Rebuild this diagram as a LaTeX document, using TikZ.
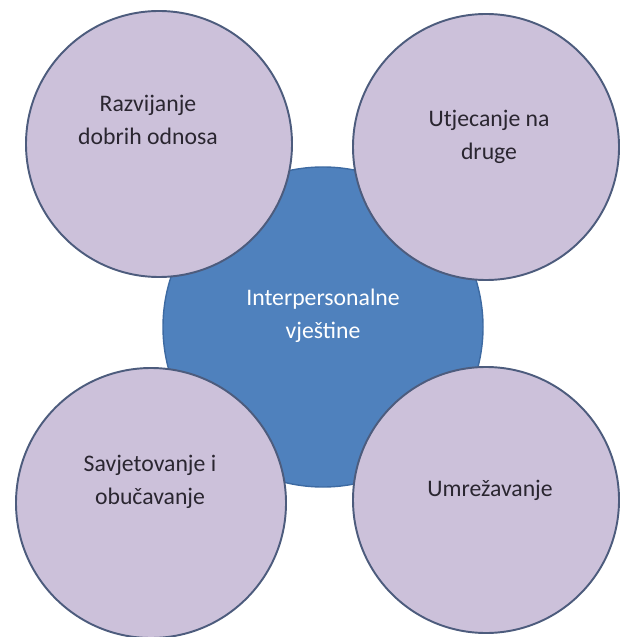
\documentclass[tikz,border=0pt]{standalone}
\usepackage{fontspec}
\setmainfont{Carlito}
\usepackage{xcolor}
\usepackage{tikz}
\usetikzlibrary{positioning}
\definecolor{skillBlue}{HTML}{4F81BD}
\definecolor{skillEdge}{HTML}{3D6AA2}
\definecolor{lavFill}{HTML}{CCC1DA}
\definecolor{lavEdge}{HTML}{4D5C7D}
\definecolor{ink}{HTML}{2A2630}

\begin{document}
\begin{tikzpicture}[font=\fontsize{13.5}{19}\selectfont,
  bubble/.style={circle,draw=lavEdge,line width=1.1pt,fill=lavFill,inner sep=0pt},
  hub/.style={circle,draw=skillEdge,line width=0.8pt,fill=skillBlue,inner sep=0pt},
  txt/.style={align=center,text=ink}]
\useasboundingbox (0,0) rectangle (12.38,-12.74);
% centre
\node[hub,minimum size=6.4cm] (hub) at (6.46,-6.54) {};
\node[txt,text=white] (hubtxt) at (6.46,-6.32) {Interpersonalne\\vještine};
% four skills
\node[bubble,minimum size=5.32cm] (odn) at (3.18,-2.88) {};
\node[txt] (odntxt) at (2.96,-2.40) {Razvijanje\\dobrih odnosa};
\node[bubble,minimum size=5.32cm] (utj) at (9.72,-2.94) {};
\node[txt] (utjtxt) at (9.78,-2.74) {Utjecanje na\\druge};
\node[bubble,minimum size=5.40cm] (sav) at (3.02,-10.06) {};
\node[txt] (savtxt) at (3.00,-9.64) {Savjetovanje i\\obučavanje};
\node[bubble,minimum size=5.32cm] (mre) at (9.72,-10.00) {};
\node[txt] (mretxt) at (9.80,-9.80) {Umrežavanje};
\end{tikzpicture}
\end{document}
